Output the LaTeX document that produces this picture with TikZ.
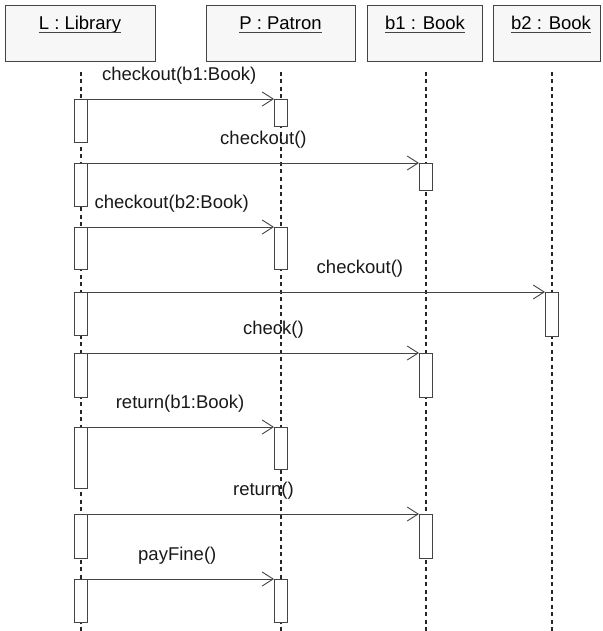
\documentclass[tikz,border=0pt]{standalone}
\usepackage{fontspec}
\setmainfont{Liberation Sans}
\usetikzlibrary{arrows.meta}

\definecolor{boxgray}{HTML}{F7F7F7}
\definecolor{linegray}{HTML}{444444}

\tikzstyle{objbox} = [draw=linegray, fill=boxgray, rectangle, line width=1pt,
    minimum height=56pt, inner sep=0pt]
\tikzstyle{objname} = [anchor=base, inner sep=0pt, font=\fontsize{18.5}{22}\selectfont]
\tikzstyle{act} = [draw=linegray, fill=white, rectangle, line width=1pt,
    minimum width=13pt, inner sep=0pt, anchor=north]
\tikzstyle{lifeline} = [black!85, line width=1.1pt, dash pattern=on 4pt off 3.5pt]
\tikzstyle{msg} = [linegray, line width=0.9pt,
    -{Straight Barb[length=11pt,width=14pt,line width=0.9pt]}]
\tikzstyle{msglabel} = [anchor=south, inner sep=0pt, yshift=14pt, black!90,
    font=\fontsize{18.5}{22}\selectfont]

\begin{document}
\begin{tikzpicture}[x=1pt, y=-1pt]
          \useasboundingbox (0,0) rectangle (602,631);

          % object boxes
          \foreach \n/\x/\w/\tx/\t in {lib/80/150/80/L : Library, pat/280.5/149/280.5/P : Patron,
              bka/424.5/115/425/b1 : Book, bkb/546.5/107/551/b2 : Book} {
            \node (\n) [objbox, minimum width=\w pt] at (\x,34) {};
            \node (\n name) [objname] at (\tx,30) {\t};
            \draw [linegray, line width=0.8pt] ([yshift=-2.5pt]\n name.base west) -- ([yshift=-2.5pt]\n name.base east);
          }

          % lifelines
          \foreach \n/\x in {lib/81, pat/281, bka/426, bkb/552} {
            \coordinate (\n top) at (\x,72);
            \coordinate (\n end) at (\x,631);
            \draw [lifeline] (\n top) -- (\n end);
          }

          % activations
          \node (la1) [act, minimum height=43pt] at (81,99) {};
          \node (la2) [act, minimum height=43pt] at (81,163) {};
          \node (la3) [act, minimum height=42pt] at (81,227) {};
          \node (la4) [act, minimum height=43pt] at (81,292) {};
          \node (la5) [act, minimum height=44pt] at (81,353) {};
          \node (la6) [act, minimum height=61pt] at (81,427) {};
          \node (la7) [act, minimum height=44pt] at (81,514) {};
          \node (la8) [act, minimum height=43pt] at (81,579) {};

          \node (pa1) [act, minimum height=27pt] at (281,99) {};
          \node (pa2) [act, minimum height=42pt] at (281,227) {};
          \node (pa3) [act, minimum height=42pt] at (281,427) {};
          \node (pa4) [act, minimum height=43pt] at (281,579) {};

          \node (ba1) [act, minimum height=27pt] at (426,163) {};
          \node (ba2) [act, minimum height=44pt] at (426,353) {};
          \node (ba3) [act, minimum height=44pt] at (426,514) {};

          \node (bb1) [act, minimum height=44pt] at (552,292) {};

          % messages
          \draw [msg] (la1.north east) -- node [msglabel, pos=.49] {checkout(b1:Book)} (pa1.north west);
          \draw [msg] (la2.north east) -- node [msglabel, pos=.53] {checkout()} (ba1.north west);
          \draw [msg] (la3.north east) -- node [msglabel, pos=.45] {checkout(b2:Book)} (pa2.north west);
          \draw [msg] (la4.north east) -- node [msglabel, pos=.595] {checkout()} (bb1.north west);
          \draw [msg] (la5.north east) -- node [msglabel, pos=.56] {check()} (ba2.north west);
          \draw [msg] (la6.north east) -- node [msglabel, pos=.495] {return(b1:Book)} (pa3.north west);
          \draw [msg] (la7.north east) -- node [msglabel, pos=.53] {return()} (ba3.north west);
          \draw [msg] (la8.north east) -- node [msglabel, pos=.48] {payFine()} (pa4.north west);
        \end{tikzpicture}
\end{document}
